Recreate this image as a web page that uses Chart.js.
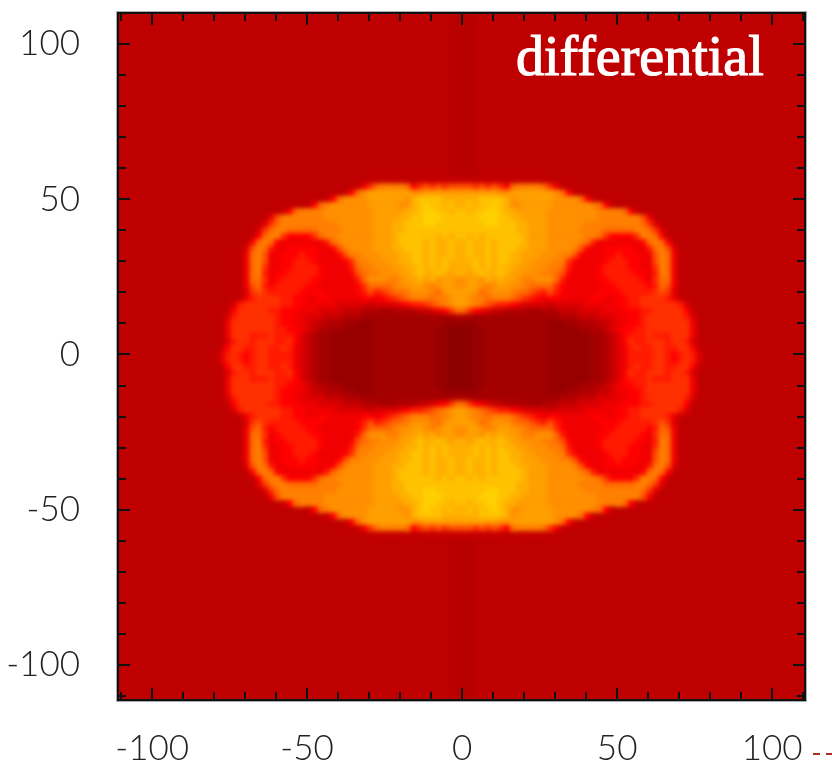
<!DOCTYPE html>
<html>
<head>
<meta charset="utf-8">
<title>differential</title>
<script src="https://cdn.jsdelivr.net/npm/chart.js@4/dist/chart.umd.min.js"></script>
<style>
  html, body { margin: 0; padding: 0; background: #fff; }
  canvas { display: block; }
</style>
</head>
<body>
<canvas id="chart" width="832" height="765"></canvas>
<script>
// colour levels, one character per level
const levelKeys = "abcdefghijklmnopqr";
const levelColors = ["#8c0000","#980000","#a50000","#b20000","#c60000","#dc0000","#f00000","#ff0000","#ff1a00","#ff3000","#ff5000","#ff6c00","#ff8000","#ff9000","#ff9f00","#ffb000","#ffc200","#ffd200"];
const backgroundColor = "#bf0000";
const centerBandColor = "#b90000";
const centerBand = [-4.5, 4.5];

const tickLabels = [-100, -50, 0, 50, 100];
const minorTicks = [-110, -90, -80, -70, -60, -40, -30, -20, -10, 10, 20, 30, 40, 60, 70, 80, 90, 110];
const plotLabel = "differential";

// cells are 2 units wide, first column at x=-77.5, first row at y=56, 0 = no cell
const firstX = -77.5;
const firstY = 56;
const cellStep = 2;
const rows = [
"0000000000000000000000000eeeee00eeeeeeeeeeeeee00eeeee0000000000000000000000000",
"0000000000000000000000egjlmmmmlhjkjkjkkkkjkjkjhlmmmmljge0000000000000000000000",
"00000000000000000000ehlnooooooonnoooooooooooonnooooooonlhe00000000000000000000",
"00000000000000000ehlnnnnoooooonpqqqqppppppqqqqpnoooooonnnnlhe00000000000000000",
"00000000000000ehlmnnnnnnooooonnpqrqqpqppqpqqrqpnnooooonnnnnnmlhe00000000000000",
"0000000000ehlmmmmnnnnnnnnoooooppqrrqqpqqpqqrrqppooooonnnnnnnnmmmmlhe0000000000",
"00000000gkmmmmmmmnnnnnnnnooooppqqrrrqqqqqqrrrqqppoooonnnnnnnnmmmmmmmkg00000000",
"0000000fjlmmmmmmmmmnnnnnnoooppqqqrrqqqqqqqqrrqqqppooonnnnnnmmmmmmmmmljf0000000",
"000000fjlmmlllllmmmmnnnnnoooppqqqqqqqqqqqqqqqqqqppooonnnnnmmmmlllllmmljf000000",
"00000ehlmmjhhhhjlmmnnnnnnooopqqqqqqpqpqqpqpqqqqqqpooonnnnnnmmljhhhhjmmlhe00000",
"00000hlmlhgggggggilmnnnnnooopqqqqpqppqppqppqpqqqqpooonnnnnmliggggggghlmlh00000",
"0000fkmligghhhhhgghkmnnnnoooppqqqpqppqppqppqpqqqppooonnnnmkhgghhhhhggilmkf0000",
"0000glmkgghhhihhggghkmmnnnoooppqqpqppqppqppqpqqppooonnnmmkhggghhihhhggkmlg0000",
"0000glmkgghhiiihgggghjmmnnnooppqqpqpqppppqpqpqqppoonnnmmjhgggghiiihhggkmlg0000",
"0000glmjgghhiiiihggggilmmnnnooppqpqpqppppqpqpqppoonnnmmligggghiiiihhggjmlg0000",
"0000glmighhiiiiihgggghklmmnnnoopqppqpoppopqppqpoonnnmmlkhgggghiiiiihhgimlg0000",
"0000glljghiiiiihhgggggilnnnmmnoopopnoonnoonpopoonmmnnnliggggghhiiiiihgjllg0000",
"0000gklihiiiiihhgggggghjllllmnnoonmnoonnoonmnoonnmlllljhgggggghhiiiiihilkg0000",
"0000fjkjiiiiihhhhggggghikijkllmnnnmlnoooonlmnnnmllkjikihggggghhhhiiiiijkjf0000",
"000egijjjjiihhgghhggggghhghijklmmmlmmnoonmmlmmmlkjihghhggggghhgghhiijjjjige000",
"00fijjjjjjiihhgggggfffffeffffghiijklmnoonmlkjiihgffffefffffggggghhiijjjjjjif00",
"0ehjjjjjiihhhgggffffeeedddccddddeefghjlljhgfeeddddccdddeeeffffggghhhiijjjjjhe0",
"0fijjjjjjihhggfffeeedddcccccccccccccccddcccccccccccccccdddeeefffgghhijjjjjjif0",
"0gjjjjjjjihhggfeedddccbbbcccccccccccbbbbbbcccccccccccbbbccdddeefgghhijjjjjjjg0",
"0gjjjjjjjiihhgfeddccbbbbbccccccccccbbaaaabbccccccccccbbbbbccddefghhiijjjjjjjg0",
"0gjjjiiijiiihfedccbbbbbbbccccccccccbbaaaabbccccccccccbbbbbbbccdefhiiijiiijjjg0",
"0fijjijjjiijhfedccbbbbbbbccccccccccbbaaaabbccccccccccbbbbbbbccdefhjiijjjijjif0",
"ehjjiijjiijigfedccbbbbbbbccccccccccbbaaaabbccccccccccbbbbbbbccdefgijiijjiijjhe",
"fijihijjiiiigfedccbbbbbbbccccccccccbbaaaabbccccccccccbbbbbbbccdefgiiiijjihijif",
"fijihijjiiiigfedccbbbbbbbccccccccccbbaaaabbccccccccccbbbbbbbccdefgiiiijjihijif",
"ehjjiijjiijigfedccbbbbbbbccccccccccbbaaaabbccccccccccbbbbbbbccdefgijiijjiijjhe",
"0fijjijjjiijhfedccbbbbbbbccccccccccbbaaaabbccccccccccbbbbbbbccdefhjiijjjijjif0",
"0gjjjiiijiiihfedccbbbbbbbccccccccccbbaaaabbccccccccccbbbbbbbccdefhiiijiiijjjg0",
"0gjjjjjjjiihhgfeddccbbbbbccccccccccbbaaaabbccccccccccbbbbbccddefghhiijjjjjjjg0",
"0gjjjjjjjihhggfeedddccbbbcccccccccccbbbbbbcccccccccccbbbccdddeefgghhijjjjjjjg0",
"0fijjjjjjihhggfffeeedddcccccccccccccccddcccccccccccccccdddeeefffgghhijjjjjjif0",
"0ehjjjjjiihhhgggffffeeedddccddddeefghjlljhgfeeddddccdddeeeffffggghhhiijjjjjhe0",
"00fijjjjjjiihhgggggfffffeffffghiijklmnoonmlkjiihgffffefffffggggghhiijjjjjjif00",
"000egijjjjiihhgghhggggghhghijklmmmlmmnoonmmlmmmlkjihghhggggghhgghhiijjjjige000",
"0000fjkjiiiiihhhhggggghikijkllmnnnmlnoooonlmnnnmllkjikihggggghhhhiiiiijkjf0000",
"0000gklihiiiiihhgggggghjllllmnnoonmnoonnoonmnoonnmlllljhgggggghhiiiiihilkg0000",
"0000glljghiiiiihhgggggilnnnmmnoopopnoonnoonpopoonmmnnnliggggghhiiiiihgjllg0000",
"0000glmighhiiiiihgggghklmmnnnoopqppqpoppopqppqpoonnnmmlkhgggghiiiiihhgimlg0000",
"0000glmjgghhiiiihggggilmmnnnooppqpqpqppppqpqpqppoonnnmmligggghiiiihhggjmlg0000",
"0000glmkgghhiiihgggghjmmnnnooppqqpqpqppppqpqpqqppoonnnmmjhgggghiiihhggkmlg0000",
"0000glmkgghhhihhggghkmmnnnoooppqqpqppqppqppqpqqppooonnnmmkhggghhihhhggkmlg0000",
"0000fkmligghhhhhgghkmnnnnoooppqqqpqppqppqppqpqqqppooonnnnmkhgghhhhhggilmkf0000",
"00000hlmlhgggggggilmnnnnnooopqqqqpqppqppqppqpqqqqpooonnnnnmliggggggghlmlh00000",
"00000ehlmmjhhhhjlmmnnnnnnooopqqqqqqpqpqqpqpqqqqqqpooonnnnnnmmljhhhhjmmlhe00000",
"000000fjlmmlllllmmmmnnnnnoooppqqqqqqqqqqqqqqqqqqppooonnnnnmmmmlllllmmljf000000",
"0000000fjlmmmmmmmmmnnnnnnoooppqqqrrqqqqqqqqrrqqqppooonnnnnnmmmmmmmmmljf0000000",
"00000000gkmmmmmmmnnnnnnnnooooppqqrrrqqqqqqrrrqqppoooonnnnnnnnmmmmmmmkg00000000",
"0000000000ehlmmmmnnnnnnnnoooooppqrrqqpqqpqqrrqppooooonnnnnnnnmmmmlhe0000000000",
"00000000000000ehlmnnnnnnooooonnpqrqqpqppqpqqrqpnnooooonnnnnnmlhe00000000000000",
"00000000000000000ehlnnnnoooooonpqqqqppppppqqqqpnoooooonnnnlhe00000000000000000",
"00000000000000000000ehlnooooooonnoooooooooooonnooooooonlhe00000000000000000000",
"0000000000000000000000egjlmmmmlhjkjkjkkkkjkjkjhlmmmmljge0000000000000000000000",
"0000000000000000000000000eeeee00eeeeeeeeeeeeee00eeeee0000000000000000000000000"
];

const cellPoints = [];
const cellColors = [];
rows.forEach((row, r) => {
  for (let c = 0; c < row.length; c++) {
    const k = levelKeys.indexOf(row[c]);
    if (k < 0) continue;
    cellPoints.push({ x: firstX + c * cellStep, y: firstY - r * cellStep });
    cellColors.push(levelColors[k]);
  }
});

const tickFont = { family: "Lato, sans-serif", size: 35, weight: 300 };

const framePlugin = {
  id: "frame",
  beforeDatasetsDraw(chart) {
    const { ctx, chartArea: a, scales: { x } } = chart;
    ctx.save();
    ctx.fillStyle = backgroundColor;
    ctx.fillRect(a.left, a.top, a.width, a.height);
    ctx.fillStyle = centerBandColor;
    const bx = x.getPixelForValue(centerBand[0]);
    ctx.fillRect(bx, a.top, x.getPixelForValue(centerBand[1]) - bx, a.height);
    ctx.restore();
  },
  afterDatasetsDraw(chart) {
    const { ctx, chartArea: a, scales: { x, y } } = chart;
    // the source image is a smoothed bitmap, soften the cells the same way
    ctx.save();
    ctx.beginPath();
    ctx.rect(a.left, a.top, a.width, a.height);
    ctx.clip();
    ctx.filter = "blur(2px)";
    ctx.drawImage(chart.canvas, 0, 0);
    ctx.filter = "none";
    ctx.restore();

    ctx.save();
    ctx.strokeStyle = "#111";
    ctx.lineWidth = 2;
    const drawTicks = (v, len) => {
      const px = Math.round(x.getPixelForValue(v));
      const py = Math.round(y.getPixelForValue(v));
      ctx.beginPath();
      ctx.moveTo(px, a.top); ctx.lineTo(px, a.top + len);
      ctx.moveTo(px, a.bottom); ctx.lineTo(px, a.bottom - len);
      ctx.moveTo(a.left, py); ctx.lineTo(a.left + len, py);
      ctx.moveTo(a.right, py); ctx.lineTo(a.right - len, py);
      ctx.stroke();
    };
    tickLabels.forEach(v => drawTicks(v, 12));
    minorTicks.forEach(v => drawTicks(v, 8));
    ctx.strokeStyle = "#aaa";
    ctx.lineWidth = 1;
    ctx.strokeRect(a.left - 1.5, a.top - 1.5, a.width + 3, a.height + 3);
    ctx.strokeStyle = "#111";
    ctx.lineWidth = 2;
    ctx.strokeRect(a.left, a.top, a.width, a.height);

    ctx.fillStyle = "#fff";
    ctx.strokeStyle = "#fff";
    ctx.lineWidth = 1.2;
    ctx.font = "56px 'Liberation Serif', serif";
    ctx.textAlign = "left";
    ctx.textBaseline = "alphabetic";
    ctx.fillText(plotLabel, 516, 75);
    ctx.strokeText(plotLabel, 516, 75);

    ctx.strokeStyle = "#a83020";
    ctx.lineWidth = 2;
    ctx.setLineDash([7, 6]);
    ctx.beginPath();
    ctx.moveTo(813, 754); ctx.lineTo(832, 754);
    ctx.stroke();
    ctx.restore();
  }
};

new Chart(document.getElementById("chart"), {
  type: "scatter",
  data: {
    datasets: [{
      label: plotLabel,
      data: cellPoints,
      pointStyle: "rect",
      pointRadius: 4.8,
      pointHoverRadius: 4.8,
      pointBorderWidth: 0,
      pointBackgroundColor: cellColors
    }]
  },
  options: {
    responsive: false,
    animation: false,
    events: [],
    layout: { padding: { top: 13, right: 27, left: 0, bottom: 0 } },
    plugins: { legend: { display: false }, tooltip: { enabled: false } },
    scales: {
      x: {
        type: "linear", min: -111, max: 110.6,
        grid: { display: false }, border: { display: false },
        afterFit: s => { s.height = 65; s.paddingLeft = 0; s.paddingRight = 0; },
        afterBuildTicks: s => { s.ticks = tickLabels.map(v => ({ value: v })); },
        ticks: { font: tickFont, color: "#222", padding: 20, maxRotation: 0, autoSkip: false }
      },
      y: {
        type: "linear", min: -111.3, max: 110,
        grid: { display: false }, border: { display: false },
        afterFit: s => { s.width = 118; s.paddingTop = 0; s.paddingBottom = 0; },
        afterBuildTicks: s => { s.ticks = tickLabels.map(v => ({ value: v })); },
        ticks: { font: tickFont, color: "#222", padding: 30, autoSkip: false }
      }
    }
  },
  plugins: [framePlugin]
});
</script>
</body>
</html>
